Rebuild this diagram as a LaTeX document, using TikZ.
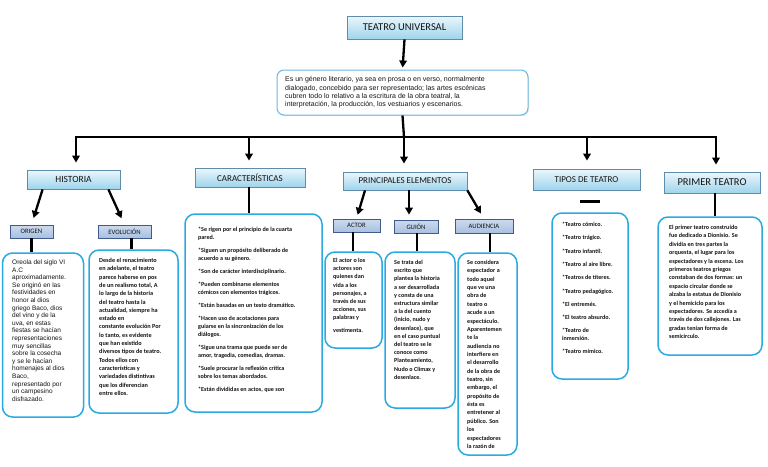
\documentclass[tikz,border=0pt]{standalone}
\usepackage{fontspec}
\setmainfont{Carlito}
\newfontfamily\arialf{Liberation Sans}
\usetikzlibrary{arrows.meta,shadows}
\definecolor{boxblue}{RGB}{41,171,226}
\definecolor{descblue}{RGB}{105,185,225}
\definecolor{lvltop}{RGB}{236,247,252}
\definecolor{lvlbot}{RGB}{158,212,236}
\definecolor{lvlborder}{RGB}{95,140,170}
\definecolor{subtop}{RGB}{205,218,238}
\definecolor{subbot}{RGB}{168,192,226}
\definecolor{subborder}{RGB}{65,90,135}
\definecolor{txt}{RGB}{20,20,20}
\begin{document}
\begin{tikzpicture}[x=1pt,y=-1pt,
  arr/.style={line width=2.3pt,-{Triangle[width=7.5pt,length=7pt]}},
  stem/.style={line width=2.3pt},
  lvlone/.style={draw=lvlborder,line width=0.8pt,top color=lvltop,bottom color=lvlbot,
    inner sep=0pt,text=txt,drop shadow={shadow xshift=0.8pt,shadow yshift=-0.8pt,opacity=0.25}},
  subbox/.style={draw=subborder,line width=0.7pt,top color=subtop,bottom color=subbot,
    inner sep=0pt,text=txt,font=\fontsize{6.7}{7}\selectfont},
  textbox/.style={draw=boxblue,line width=1.5pt,rounded corners=10pt,fill=white,inner sep=0pt},
  bodytext/.style={anchor=north west,inner sep=0pt,align=left,text=txt,
    font=\bfseries\fontsize{6.2}{8.3}\selectfont},
]
\useasboundingbox (0,0) rectangle (768,466);
\fill[white] (0,0) rectangle (768,466);

% ---- title and description
\node[lvlone,minimum width=115pt,minimum height=23pt,font=\fontsize{10.5}{12}\selectfont] (title) at (404.5,27.5) {TEATRO UNIVERSAL};
\node[draw=descblue,line width=1pt,rounded corners=7pt,fill=white,minimum width=251pt,minimum height=45pt,
  drop shadow={shadow xshift=1pt,shadow yshift=-1pt,opacity=0.2}] (desc) at (402.5,92.5) {};
\node[anchor=north west,inner sep=0pt,align=left,text=txt,font=\arialf\fontsize{7}{8.3}\selectfont] (descTx) at (285,76.5)
 {Es un género literario, ya sea en prosa o en verso, normalmente\\
  dialogado, concebido para ser representado; las artes escénicas\\
  cubren todo lo relativo a la escritura de la obra teatral, la\\
  interpretación, la producción, los vestuarios y escenarios.};
\draw[arr,shorten >=2pt] (title.south) -- (desc.north);

% ---- level one
\node[lvlone,minimum width=93pt,minimum height=19pt,font=\fontsize{9.5}{11}\selectfont] (hist) at (73.5,179.5) {HISTORIA};
\node[lvlone,minimum width=110pt,minimum height=19pt,font=\fontsize{9}{11}\selectfont] (carac) at (250,177.5) {CARACTERÍSTICAS};
\node[lvlone,minimum width=124pt,minimum height=18pt,font=\fontsize{9}{11}\selectfont] (princ) at (405,181) {PRINCIPALES ELEMENTOS};
\node[lvlone,minimum width=107pt,minimum height=21pt,font=\fontsize{9}{11}\selectfont] (tipos) at (586.5,179.5) {TIPOS DE TEATRO};
\node[lvlone,minimum width=96pt,minimum height=21pt,font=\fontsize{10.5}{12}\selectfont] (primer) at (712,182.5) {PRIMER TEATRO};

\coordinate (bar) at (404,137);
\coordinate (barL) at (76,137);
\coordinate (barC) at (249,137);
\coordinate (barT) at (587,137);
\coordinate (barR) at (716,137);
\draw[stem] (desc.south) -- (bar);
\draw[stem,line cap=rect] (barL) -- (barR);
\draw[arr,shorten >=7pt] (barL) -- (barL |- hist.north);
\draw[arr,shorten >=7pt] (barC) -- (barC |- carac.north);
\draw[arr,shorten >=8pt] (bar) -- (bar |- princ.north);
\draw[arr,shorten >=8pt] (barT) -- (barT |- tipos.north);
\draw[arr,shorten >=7pt] (barR) -- (barR |- primer.north);

% ---- sub boxes
\node[subbox,minimum width=43pt,minimum height=13pt] (origen) at (31.5,231.5) {ORIGEN};
\node[subbox,minimum width=53pt,minimum height=13pt] (evol) at (124.5,231.5) {EVOLUCIÓN};
\node[subbox,minimum width=47pt,minimum height=13pt] (actor) at (356.5,225.5) {ACTOR};
\node[subbox,minimum width=44pt,minimum height=13pt] (guion) at (416,226.5) {GUIÓN};
\node[subbox,minimum width=58pt,minimum height=14pt] (audi) at (484,226) {AUDIENCIA};

\draw[arr,shorten >=7pt] ([xshift=16pt]hist.south west) -- (origen.north);
\draw[arr,shorten >=7pt] ([xshift=-12pt]hist.south east) -- (evol.north);
\draw[arr,shorten >=4pt] ([xshift=-40pt]princ.south) -- (actor.north);
\draw[arr,shorten >=5pt] ([xshift=4pt]princ.south) -- ([xshift=4pt]princ.south |- guion.north);
\draw[arr,shorten >=6pt] (princ.south east) -- (audi.north);

% ---- text boxes
\node[textbox,minimum width=81pt,minimum height=164pt] (origenT) at (43,335) {};
\node[textbox,minimum width=89pt,minimum height=163pt] (evolT) at (133.5,331.5) {};
\node[textbox,minimum width=137pt,minimum height=198pt] (caracT) at (253.5,313) {};
\node[textbox,minimum width=57pt,minimum height=96pt] (actorT) at (353.5,300) {};
\node[textbox,minimum width=70pt,minimum height=156pt] (guionT) at (420,330) {};
\node[textbox,minimum width=59pt,minimum height=202pt] (audiT) at (487.5,354) {};
\node[textbox,minimum width=76pt,minimum height=166pt] (tiposT) at (590,296) {};
\node[textbox,minimum width=104pt,minimum height=138pt] (primerT) at (710,286) {};

\draw[stem] (origen.south) -- (origen.south |- origenT.north);
\draw[stem] ([xshift=7pt]evol.south) -- ([xshift=7pt]evol.south |- evolT.north);
\draw[stem] ([xshift=-1pt]carac.south) -- ([xshift=-1pt]carac.south |- caracT.north);
\draw[stem] ([xshift=-3.5pt]actor.south) -- ([xshift=-3.5pt]actor.south |- actorT.north);
\draw[stem] ([xshift=1pt]guion.south) -- ([xshift=1pt]guion.south |- guionT.north);
\draw[stem] ([xshift=6pt]audi.south) -- ([xshift=6pt]audi.south |- audiT.north);
\draw[stem] ([xshift=3pt]primer.south) -- ([xshift=3pt]primer.south |- primerT.north);
\draw[stem] ([xshift=-6.5pt,yshift=-11pt]tipos.south) -- ([xshift=13.5pt,yshift=-11pt]tipos.south);

% ---- texts
\node[anchor=north west,inner sep=0pt,align=left,text=txt,font=\arialf\fontsize{6.5}{7.6}\selectfont] (origenTx) at (12,259.5)
 {Oreola del siglo VI\\A.C\\aproximadamente.\\Se originó en las\\festividades en\\honor al dios\\griego Baco, dios\\
  del vino y de la\\uva, en estas\\fiestas se hacían\\representaciones\\muy sencillas\\sobre la cosecha\\
  y se le hacían\\homenajes al dios\\Baco,\\representado por\\un campesino\\disfrazado.};
\node[bodytext] (evolTx) at (99,258)
 {Desde el renacimiento\\en adelante, el teatro\\parece haberse en pos\\de un realismo total, A\\lo largo de la historia\\
  del teatro hasta la\\actualidad, siempre ha\\estado en\\constante evolución Por\\lo tanto, es evidente\\que han existido\\
  diversos tipos de teatro.\\Todos ellos con\\características y\\variedades distintivas\\que los diferencian\\entre ellos.};
\node[bodytext,font=\bfseries\fontsize{6.1}{8}\selectfont] (caracTx) at (198,227)
 {*Se rigen por el principio de la cuarta\\pared.\\[5pt]
  *Siguen un propósito deliberado de\\acuerdo a su género.\\[5pt]
  *Son de carácter interdisciplinario.\\[5pt]
  *Pueden combinarse elementos\\cómicos con elementos trágicos.\\[5pt]
  *Están basadas en un texto dramático.\\[5pt]
  *Hacen uso de acotaciones para\\guiarse en la sincronización de los\\diálogos.\\[5pt]
  *Sigue una trama que puede ser de\\amor, tragedia, comedias, dramas.\\[5pt]
  *Suele procurar la reflexión crítica\\sobre los temas abordados.\\[5pt]
  *Están divididas en actos, que son};
\node[bodytext,font=\bfseries\fontsize{6.1}{8.2}\selectfont] (actorTx) at (333,258)
 {El actor o los\\actores son\\quienes dan\\vida a los\\personajes, a\\través de sus\\acciones, sus\\palabras y\\[4.5pt]vestimenta.};
\node[bodytext,font=\bfseries\fontsize{6.1}{8.2}\selectfont] (guionTx) at (394,260)
 {Se trata del\\escrito que\\plantea la historia\\a ser desarrollada\\y consta de una\\estructura similar\\a la del cuento\\
  (inicio, nudo y\\desenlace), que\\en el caso puntual\\del teatro se le\\conoce como\\Planteamiento,\\Nudo o Climax y\\desenlace.};
\node[bodytext,font=\bfseries\fontsize{6.1}{8.36}\selectfont] (audiTx) at (467,260)
 {Se considera\\espectador a\\todo aquel\\que ve una\\obra de\\teatro o\\acude a un\\espectáculo.\\Aparentemen\\te la\\
  audiencia no\\interfiere en\\el desarrollo\\de la obra de\\teatro, sin\\embargo, el\\propósito de\\ésta es\\entretener al\\
  público. Son\\los\\espectadores\\la razón de};
\node[bodytext,font=\bfseries\fontsize{6.1}{7.2}\selectfont] (tiposTx) at (562,222)
 {*Teatro cómico.\\[6.1pt]*Teatro trágico.\\[6.1pt]*Teatro infantil.\\[6.1pt]*Teatro al aire libre.\\[6.1pt]
  *Teatros de títeres.\\[6.1pt]*Teatro pedagógico.\\[6.1pt]*El entremés.\\[6.1pt]*El teatro absurdo.\\[6.1pt]
  *Teatro de\\inmersión.\\[6.1pt]*Teatro mímico.};
\node[bodytext,font=\bfseries\fontsize{6.1}{8.4}\selectfont] (primerTx) at (669,225)
 {El primer teatro construido\\fue dedicado a Dionisio. Se\\dividía en tres partes la\\orquesta, el lugar para los\\
  espectadores y la escena. Los\\primeros teatros griegos\\constaban de dos formas: un\\espacio circular donde se\\
  alzaba la estatua de Dionisio\\y el hemiciclo para los\\espectadores. Se accedía a\\través de dos callejones. Las\\
  gradas tenían forma de\\semicírculo.};
\end{tikzpicture}
\end{document}
